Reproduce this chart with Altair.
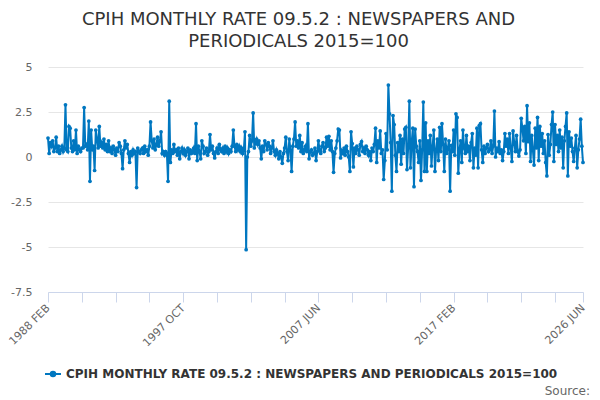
import altair as alt
import pandas as pd

# Monthly rate values, 1988 FEB .. 2026 JUN (460 months)
v_1988_1994 = [1.05, 0.2, 0.8, 0.6, 0.9, 0.3, 0.5, 1.1, 0.3, 0.6, 0.2, 0.4,
               0.6, 0.3, 0.5, 2.9, 0.4, 0.3, 1.7, 1.6, 0.5, 0.3, 0.9, 0.4,
               1.5, 0.2, 0.6, 0.4, 0.3, 0.5, 0.5, 2.75, 0.6, 0.7, 0.4, 2.0,
               -1.35, 1.5, 0.4, 0.6, -0.75, 1.5, 1.0, 0.5, 1.7, 0.6, 0.8, 0.5,
               1.0, 0.4, 0.7, 0.3, 0.9, 0.3, 0.5, 0.2, 0.6, 0.4, 0.1, 0.5,
               0.3, 0.8, 0.6, 0.2, -0.65, 0.4, 0.9, 0.5, 0.7, 0.2, -0.3, 0.3,
               0.1, 0.4, 0.2, 0.3, -1.7, 0.5, 0.3, 0.2]
v_1994_2001 = [0.4, 0.5, 0.2, 0.6, 0.3, 0.4, 0.1, 0.6, 1.95, 0.9, 0.5, 1.0,
               0.4, 0.7, 1.1, 0.6, 0.9, 1.4, 0.2, 0.3, 0.1, 0.3, 0.2, -1.35,
               3.1, -0.3, 0.4, 0.2, 0.7, 0.3, 0.4, 0.1, 0.5, -0.1, 0.3, 0.5,
               0.2, 0.4, 0.1, 0.3, 0.5, -0.1, 0.4, 0.2, 0.3, 0.5, 0.2, 1.85,
               -0.2, 0.6, 0.3, -0.1, 0.9, 0.6, 0.2, 0.3, 0.5, 0.1, 0.3, 1.25,
               0.4, 0.6, 0.2, -0.05, 0.3, 0.5, 0.2, 0.7, 0.4, 0.3, 0.5, 0.2,
               0.6, 0.3, 0.5, 0.2, 0.4, 0.3, 0.6, 1.5, 0.6, 0.3, 0.7, 0.4,
               0.6, 0.3, 0.5, 0.2]
v_2002_2008 = [0.4, 1.4, -5.15, 0.0, 0.3, 1.2, 0.6, 0.9, 2.45, 0.5, 0.8, 1.0,
               0.7, 0.9, 0.5, -0.1, 0.6, 0.3, 0.9, 0.7, 0.4, 0.8, 0.6, 0.2,
               0.5, 0.9, 0.3, 0.1, 0.4, 0.2, -0.1, 0.3, 0.0, -0.35, 0.2, 0.5,
               1.1, 0.3, -0.2, 1.0, 0.4, -0.8, 0.6, 1.0, 1.95, 0.6, 0.9, 0.5,
               1.2, 0.3, 0.8, 0.2, 0.4, 0.6, 0.3, 1.85, -0.1, 0.3, 0.4, 0.1,
               0.2, 0.5, -0.2, 0.3, 0.9, 0.4, 0.2, 0.6, 0.8, 0.3, 0.5, 1.1]
v_2008_2017 = [0.6, 1.15, 0.4, 0.9, 0.3, -0.85, 0.2, 0.5, 0.9, 1.55, 1.5, -0.05,
               0.35, 0.2, 0.5, 0.1, 0.6, 0.3, 0.0, -0.8, 1.4, 0.75, -0.55, 0.5,
               0.2, 0.6, 0.4, 0.1, 0.7, 0.85, 0.3, 0.5, 0.2, 0.6, 0.4, 0.1,
               0.3, -0.2, 0.5, 0.3, 0.7, 1.6, -0.3, 0.9, 0.5, 1.45, 0.2, 0.4,
               -1.25, -0.2, 1.3, 0.4, 4.0, 2.4, 0.8, -1.9, 2.3, 1.8, 0.1, -0.8,
               0.8, 0.3, 1.2, -0.4, 1.0, 0.2, 1.55, 1.65, -0.7, 0.5, 3.1, -0.6,
               0.8, 1.6, -1.65, 1.55, 0.6, 0.3, -0.3, 0.9, -1.3, 0.4, 3.05, -0.8,
               1.9, -0.8, 0.9, 0.2, 1.2, -0.5, 0.6, 1.5, -0.8, 0.4, 1.0, -0.2,
               1.65, 0.3, 1.85, 0.7, -0.8, 1.0, 0.2, 0.5, 0.9, -1.9, 0.65, 0.3]
v_2017_2026 = [1.5, 0.1, 2.4, 2.2, -0.9, 0.4, 0.9, -0.3, 1.5, 0.5, 0.2, 1.2,
               0.3, 0.6, -0.2, 0.8, 1.3, -0.6, 0.5, 0.1, 1.6, -0.6, 1.75, 1.85,
               0.4, -0.3, 0.6, 0.2, 0.5, 0.7, 0.3, 0.4, 0.9, 0.2, 0.6, 2.55,
               0.0, 0.5, 0.3, 0.85, 0.2, 0.4, -0.2, 0.3, 1.3, 0.6, 1.0, 0.2,
               1.3, 0.5, -0.25, 1.45, 0.8, 0.3, 1.2, 0.3, 0.05, 0.4, 2.15, 1.6,
               0.9, 1.7, 0.2, 2.85, 0.85, 1.9, -0.25, 1.2, 0.4, -0.45, 1.6, 0.5,
               2.2, -0.2, 1.7, 0.6, 1.3, 0.2, 0.9, -0.3, -1.05, 1.25, 0.1, 0.7,
               1.8, 2.5, -0.25, 1.8, 0.7, 1.2, 0.3, 1.5, 0.5, 1.1, -0.6, 0.9,
               1.7, 2.45, -1.05, 1.4, 0.6, 1.05, 0.3, -0.25, 0.5, 1.2, -0.6, 0.4,
               1.0, 2.1, 0.6, -0.3]

values = v_1988_1994 + v_1994_2001 + v_2002_2008 + v_2008_2017 + v_2017_2026

tick_positions = [0, 29, 58, 87, 116, 145, 174, 203, 232, 261, 290, 319,
                  348, 377, 406, 435, 459]
tick_labels = {0: "1988 FEB", 116: "1997 OCT", 232: "2007 JUN",
               348: "2017 FEB", 459: "2026 JUN"}

series_name = "CPIH MONTHLY RATE 09.5.2 : NEWSPAPERS AND PERIODICALS 2015=100"
blue = "#0077c0"

df = pd.DataFrame({
    "i": list(range(len(values))),
    "value": values,
    "series": [series_name] * len(values),
})

label_expr = " : ".join(
    f"datum.value == {k} ? '{v}'" for k, v in tick_labels.items()
) + " : ''"

base = alt.Chart(df)

line = base.mark_line(
    strokeWidth=2,
    point=alt.OverlayMarkDef(filled=True, size=14, opacity=1),
).encode(
    x=alt.X("i:Q",
            scale=alt.Scale(domain=[0, len(values) - 1], nice=False, zero=False),
            axis=alt.Axis(values=tick_positions, labelExpr=label_expr,
                          title=None, grid=False, labelAngle=-45,
                          labelAlign="right", labelBaseline="middle",
                          labelFontSize=11, labelColor="#666666",
                          domainColor="#ccd6eb", tickColor="#ccd6eb",
                          tickSize=10, labelPadding=4, labelOverlap=False,
                          labelFlush=False, labelBound=False)),
    y=alt.Y("value:Q",
            scale=alt.Scale(domain=[-7.5, 5], nice=False, zero=False),
            axis=alt.Axis(values=[-7.5, -5, -2.5, 0, 2.5, 5],
                          labelExpr="toString(datum.value)",
                          title=None, domain=False, ticks=False,
                          gridColor="#e6e6e6", labelFontSize=11,
                          labelColor="#666666", labelPadding=16)),
    color=alt.Color("series:N",
                    scale=alt.Scale(range=[blue]),
                    legend=alt.Legend(
                        title=None, orient="none", legendX=-4, legendY=298,
                        symbolType="M-1,0L1,0M-0.28,0A0.28,0.28,0,1,1,0.28,0A0.28,0.28,0,1,1,-0.28,0Z",
                        symbolSize=256, symbolStrokeWidth=2,
                        symbolFillColor=blue, symbolStrokeColor=blue,
                        labelFontSize=12, labelFontWeight="bold",
                        labelColor="#333333", labelLimit=600)),
)

source = alt.Chart(pd.DataFrame({"t": ["Source:"]})).mark_text(
    align="right", baseline="alphabetic", fontSize=12, color="#666666"
).encode(text="t:N", x=alt.value(542), y=alt.value(328))

chart = alt.layer(line, source).properties(
    width=535,
    height=225,
    autosize=alt.AutoSizeParams(type="none"),
    padding={"left": 40, "top": 59, "right": 9, "bottom": 110},
    title=alt.TitleParams(
        text=["CPIH MONTHLY RATE 09.5.2 : NEWSPAPERS AND",
              "PERIODICALS 2015=100"],
        fontSize=18, fontWeight="normal", color="#333333",
        anchor="middle", dx=-17, offset=10, lineHeight=22,
    ),
).configure(font="DejaVu Sans").configure_view(stroke=None)

chart.save("out.html", embed_options={"renderer": "svg", "actions": False})
